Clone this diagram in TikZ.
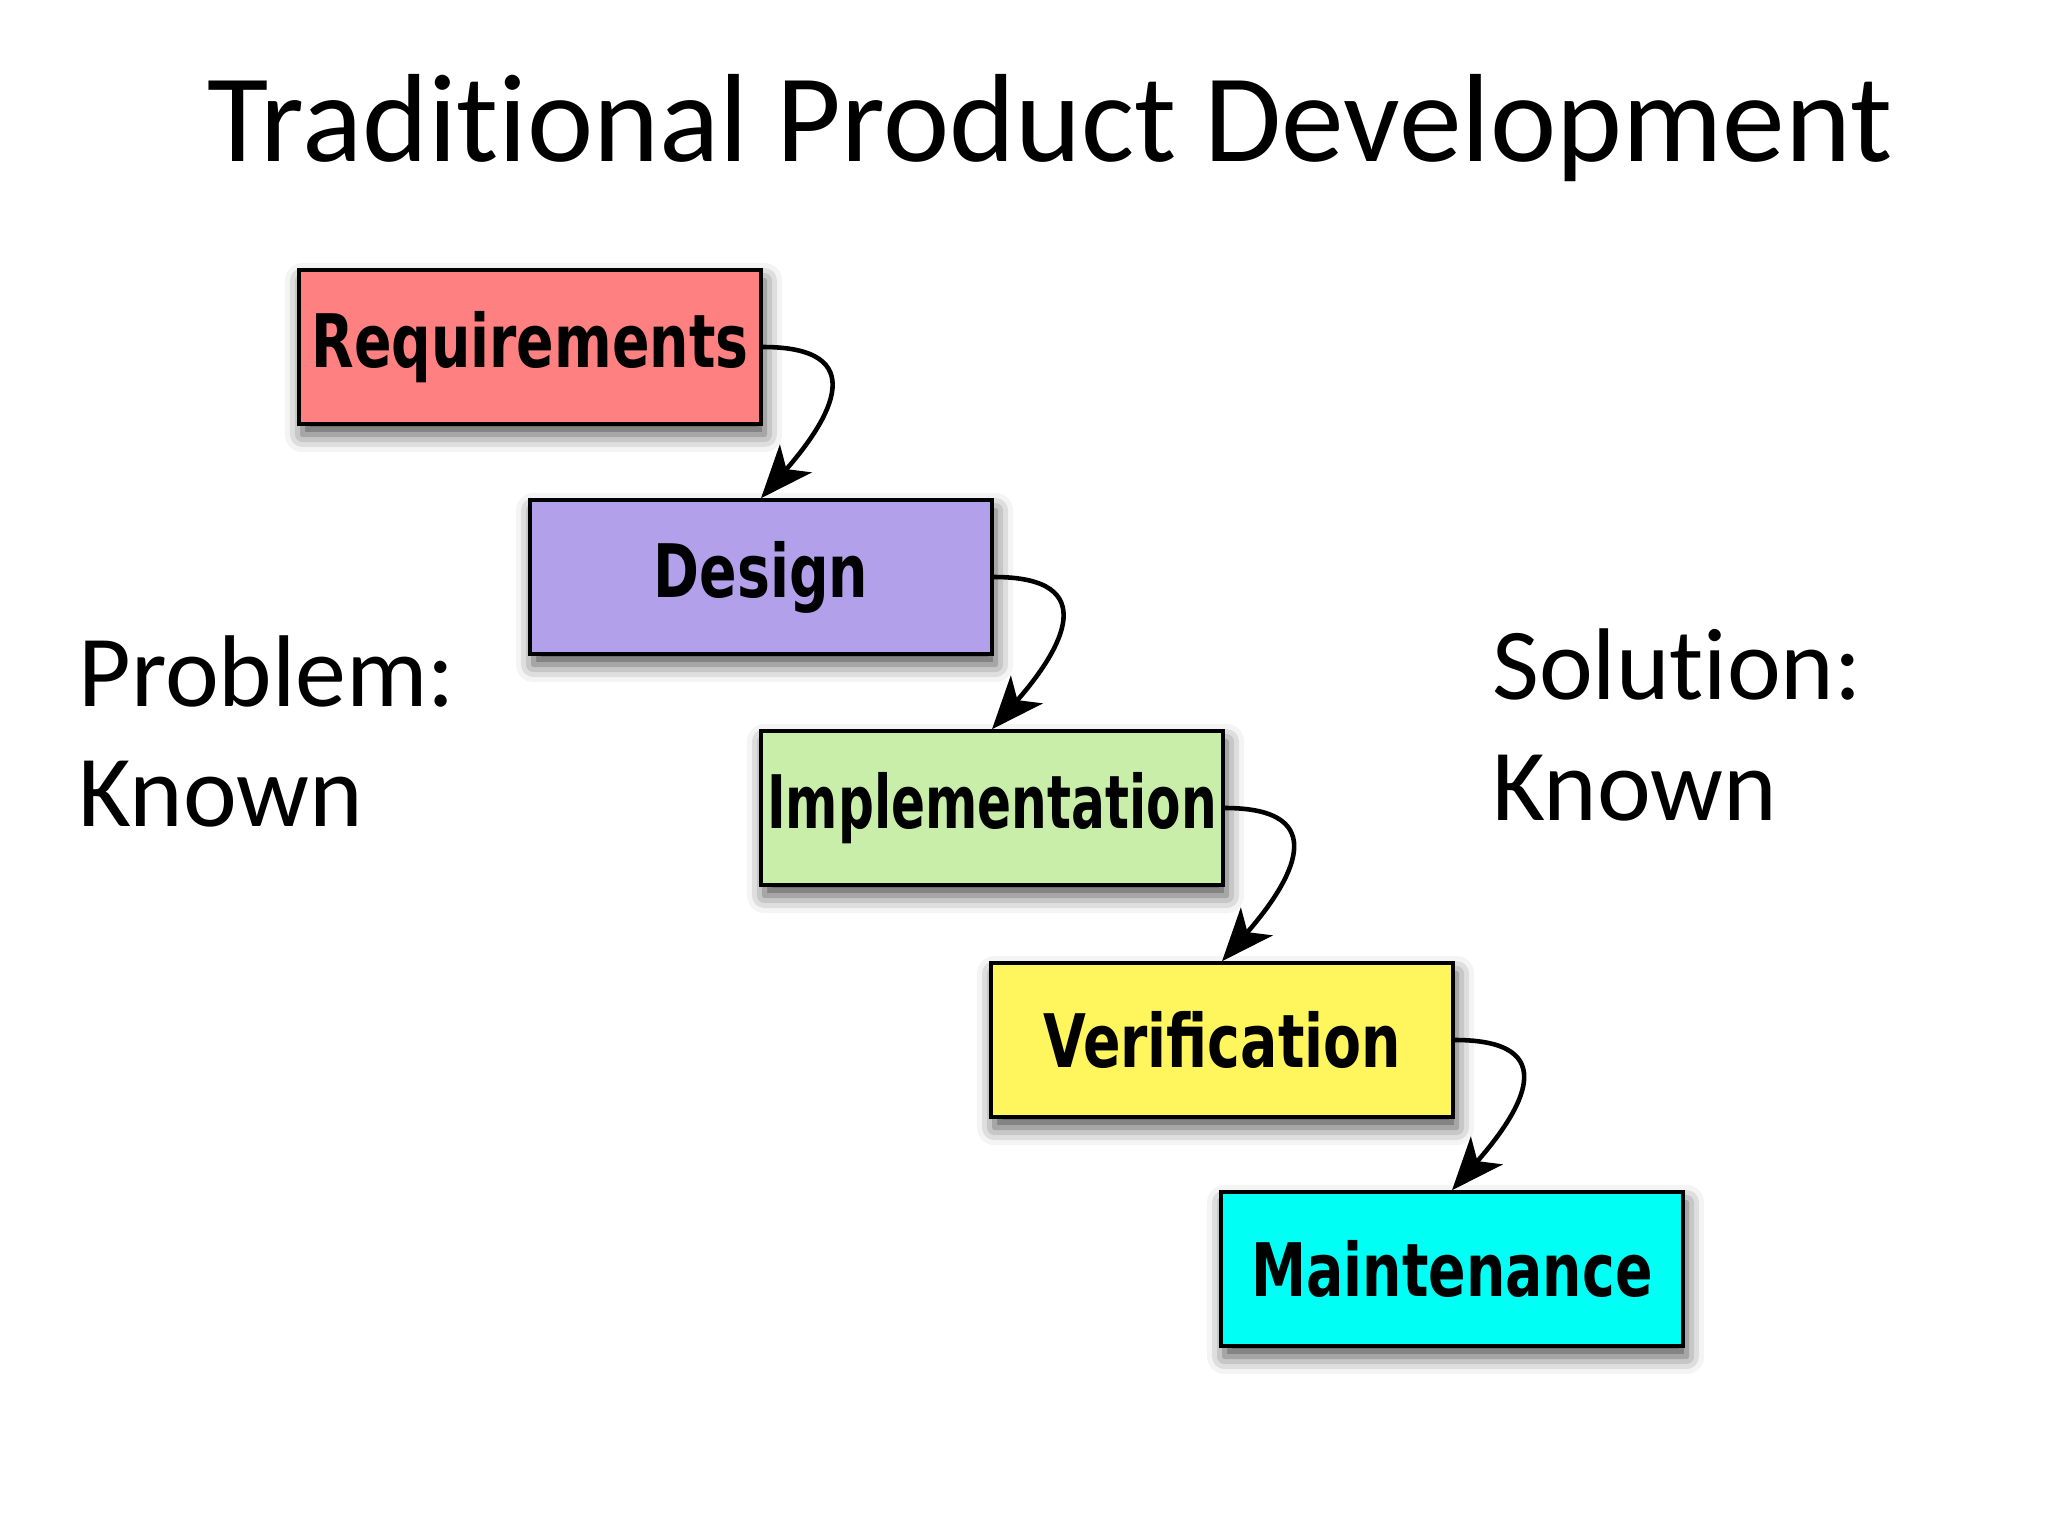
\documentclass[tikz,border=0pt]{standalone}
\usepackage{fontspec}
\setmainfont[Ligatures=NoCommon]{Carlito}
\newfontfamily\boxfont[FakeStretch=0.75]{DejaVu Sans}
\newfontfamily\boxfontnarrow[FakeStretch=0.68]{DejaVu Sans}
\usetikzlibrary{arrows.meta, shadows.blur}
\definecolor{reqred}{HTML}{FF8080}
\definecolor{deslilac}{HTML}{B2A0EB}
\definecolor{implgreen}{HTML}{C8EEAA}
\definecolor{veryellow}{HTML}{FFF55C}
\definecolor{maincyan}{HTML}{00FFF5}

\begin{document}
\begin{tikzpicture}[
    phase/.style={draw=black, line width=1pt, minimum width=4.62cm, minimum height=1.54cm,
        inner sep=0pt, font=\boxfont\bfseries\fontsize{21}{21}\selectfont,
        blur shadow={shadow xshift=1pt, shadow yshift=-3pt, shadow blur radius=5pt, shadow opacity=70}},
    flow/.style={-{Stealth[length=15pt,width=12pt,inset=4pt]}, line width=1.3pt},
    side/.style={anchor=base west, align=left, font=\fontsize{29}{34.4}\selectfont}
]
    \useasboundingbox (0,0) rectangle (20.48,-15.36);
    % title
    \node[anchor=base, font=\fontsize{35.7}{42}\selectfont] (title) at (10.50,-1.62) {Traditional Product Development};
    % the five phases
    \node[phase, fill=reqred] (req) at (5.30,-3.47) {Requirements};
    \node[phase, fill=deslilac] (des) at (7.61,-5.77) {Design};
    \node[phase, fill=implgreen, font=\boxfontnarrow\bfseries\fontsize{21}{21}\selectfont] (impl) at (9.92,-8.08) {Implementation};
    \node[phase, fill=veryellow] (ver) at (12.22,-10.40) {Verification};
    \node[phase, fill=maincyan] (main) at (14.52,-12.69) {Maintenance};
    % waterfall arrows
    \draw[flow] (req.east) .. controls +(1.1,0) and +(0.7,0.8) .. (des.north);
    \draw[flow] (des.east) .. controls +(1.1,0) and +(0.7,0.8) .. (impl.north);
    \draw[flow] (impl.east) .. controls +(1.1,0) and +(0.7,0.8) .. (ver.north);
    \draw[flow] (ver.east) .. controls +(1.1,0) and +(0.7,0.8) .. (main.north);
    % side notes (base = last line)
    \node[side] (problem) at (0.66,-8.27) {Problem:\\Known};
    \node[side] (solution) at (14.80,-8.20) {Solution:\\Known};
\end{tikzpicture}
\end{document}
